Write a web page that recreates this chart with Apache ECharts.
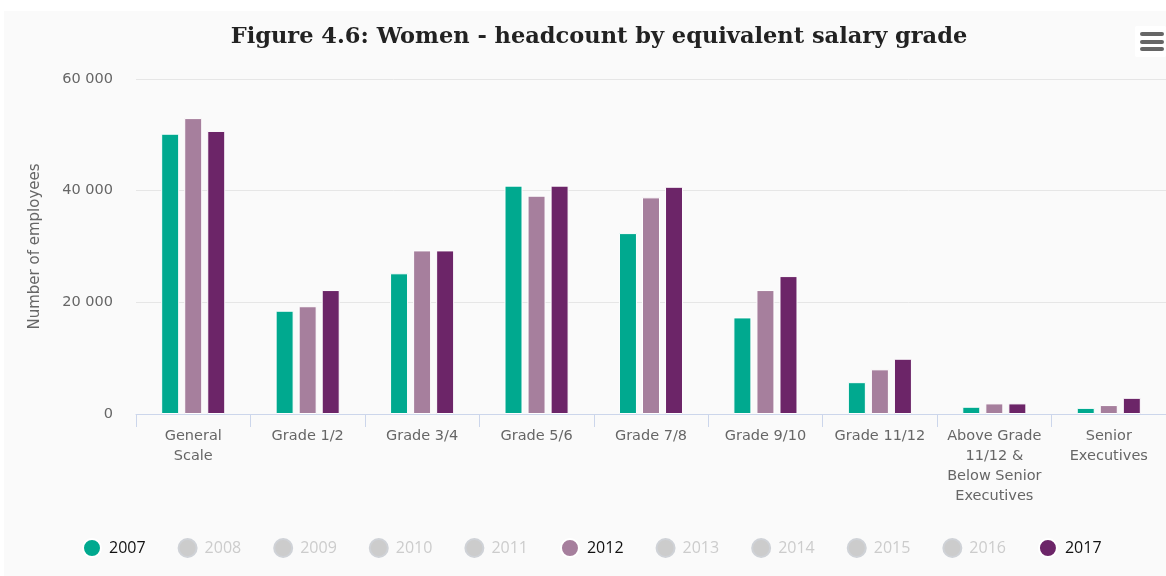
<!DOCTYPE html>
<html>
<head>
<meta charset="utf-8">
<script src="https://cdn.jsdelivr.net/npm/echarts@6/dist/echarts.min.js"></script>
<style>
  html, body { margin: 0; padding: 0; background: #fff; }
  #chart { width: 1166px; height: 576px; }
</style>
</head>
<body>
<div id="chart"></div>
<script>
// salary grade categories
const categories = [
  'General\nScale', 'Grade 1/2', 'Grade 3/4', 'Grade 5/6', 'Grade 7/8',
  'Grade 9/10', 'Grade 11/12', 'Above Grade\n11/12 &\nBelow Senior\nExecutives', 'Senior\nExecutives'
];

const years = ['2007', '2008', '2009', '2010', '2011', '2012', '2013', '2014', '2015', '2016', '2017'];
// years switched off in the legend
const hiddenYears = ['2008', '2009', '2010', '2011', '2013', '2014', '2015', '2016'];

// headcounts
const women2007 = [50200, 18500, 25200, 40900, 32400, 17300, 5700, 1300, 1100];
const women2012 = [53000, 19300, 29300, 39100, 38800, 22200, 8000, 1900, 1600];
const women2017 = [50700, 22200, 29300, 40900, 40700, 24700, 9900, 1900, 2900];

const yTicks = [0, 20000, 40000, 60000];

const seriesData = { '2007': women2007, '2012': women2012, '2017': women2017 };
const colors = {
  '2007': '#00a98f', '2012': '#a67f9d', '2017': '#6c2568'
};

const chart = echarts.init(document.getElementById('chart'));

const fmt = v => String(v).replace(/\B(?=(\d{3})+(?!\d))/g, ' ');

const selected = {};
years.forEach(y => { selected[y] = hiddenYears.indexOf(y) < 0; });

const option = {
  backgroundColor: '#fafafa',
  animation: false,
  title: {
    text: 'Figure 4.6: Women - headcount by equivalent salary grade',
    left: 594,
    textAlign: 'center',
    top: 21,
    textStyle: {
      fontFamily: 'DejaVu Serif',
      fontWeight: 'bold',
      fontSize: 22.5,
      color: '#222'
    }
  },
  graphic: [
    { type: 'rect', shape: { x: 0, y: 0, width: 1166, height: 11 }, style: { fill: '#fff' }, silent: true },
    { type: 'rect', shape: { x: 0, y: 0, width: 4, height: 576 }, style: { fill: '#fff' }, silent: true },
    { type: 'rect', shape: { x: 1135, y: 26, width: 31, height: 31, r: 2 }, style: { fill: '#fff' }, silent: true },
    { type: 'rect', shape: { x: 1140, y: 32, width: 24, height: 4, r: 2 }, style: { fill: '#666' }, silent: true },
    { type: 'rect', shape: { x: 1140, y: 40, width: 24, height: 4, r: 2 }, style: { fill: '#666' }, silent: true },
    { type: 'rect', shape: { x: 1140, y: 47, width: 24, height: 4, r: 2 }, style: { fill: '#666' }, silent: true }
  ],
  legend: {
    data: years,
    selected: selected,
    left: 77,
    top: 533,
    icon: 'circle',
    itemWidth: 18,
    itemHeight: 18,
    itemGap: 32,
    inactiveColor: '#cccccc',
    textStyle: {
      fontFamily: 'Open Sans',
      fontSize: 16,
      color: '#111',
      padding: [0, 0, 0, 3]
    }
  },
  grid: {
    left: 136,
    right: 0,
    top: 79,
    bottom: 162,
    containLabel: false
  },
  xAxis: {
    type: 'category',
    data: categories,
    axisLine: { lineStyle: { color: '#ccd6eb', width: 1 } },
    axisTick: { show: true, length: 13, lineStyle: { color: '#ccd6eb' } },
    axisLabel: {
      interval: 0,
      margin: 12,
      fontFamily: 'DejaVu Sans',
      fontSize: 14.5,
      lineHeight: 20,
      color: '#666'
    }
  },
  yAxis: {
    type: 'value',
    min: 0,
    max: yTicks[yTicks.length - 1],
    interval: yTicks[1] - yTicks[0],
    name: 'Number of employees',
    nameLocation: 'middle',
    nameGap: 93,
    nameTextStyle: {
      fontFamily: 'DejaVu Sans',
      fontSize: 15,
      color: '#666'
    },
    axisLine: { show: false },
    axisTick: { show: false },
    splitLine: { lineStyle: { color: '#e6e6e6' } },
    axisLabel: {
      margin: 23,
      fontFamily: 'DejaVu Sans',
      fontSize: 14.5,
      color: '#666',
      formatter: fmt
    }
  },
  series: years.map(y => ({
    name: y,
    type: 'bar',
    data: seriesData[y] || [],
    barWidth: 18,
    barGap: '28%',
    itemStyle: {
      color: colors[y] || '#cccccc',
      borderColor: '#fff',
      borderWidth: 1
    }
  }))
};

chart.setOption(option);
</script>
</body>
</html>
